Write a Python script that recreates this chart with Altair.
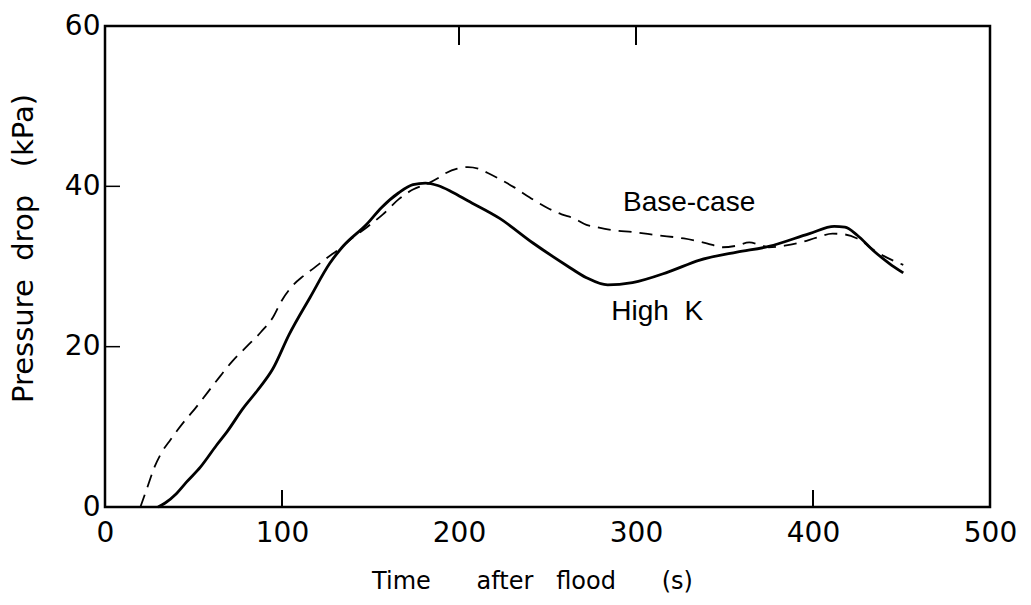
import altair as alt
import pandas as pd

# High K (solid)
highk_t = [30, 34, 40, 46, 54, 63, 69, 78, 86, 95, 104, 116, 127, 134, 148, 156, 166, 174, 181, 188, 196, 205, 223, 242, 261, 272, 284, 298, 318, 336, 357, 375, 398, 412, 418, 425, 434, 443, 451]
highk_p = [0, 0.5, 1.6, 3.1, 5.0, 7.7, 9.4, 12.3, 14.5, 17.3, 21.5, 26.2, 30.4, 32.4, 35.3, 37.3, 39.2, 40.2, 40.4, 40.1, 39.3, 38.2, 36.0, 32.9, 30.1, 28.6, 27.7, 28.0, 29.3, 30.8, 31.8, 32.5, 34.1, 35.0, 34.9, 33.9, 32.0, 30.4, 29.2]

# Base-case (dashed)
base_t = [20, 24, 28, 32, 37, 41, 46, 51, 58, 65, 72, 80, 88, 95, 100, 106, 112, 118, 125, 133, 140, 148, 157, 166, 174, 182, 188, 193, 199, 205, 211, 216, 223, 231, 240, 250, 258, 265, 272, 278, 288, 298, 312, 327, 340, 349, 357, 364, 370, 375, 384, 393, 402, 411, 418, 425, 436, 451]
base_p = [0, 2.5, 5.0, 6.8, 8.4, 9.6, 11.0, 12.3, 14.3, 16.3, 18.2, 20.0, 21.8, 23.7, 25.8, 27.6, 28.8, 29.8, 31.0, 32.3, 33.6, 34.9, 36.5, 38.4, 39.6, 40.3, 41.0, 41.7, 42.2, 42.4, 42.2, 41.7, 40.9, 39.9, 38.6, 37.3, 36.5, 36.0, 35.2, 34.9, 34.5, 34.3, 33.9, 33.5, 32.9, 32.4, 32.6, 33.0, 32.7, 32.4, 32.6, 33.0, 33.6, 34.1, 34.0, 33.5, 31.8, 30.2]

x_ticks = [0, 100, 200, 300, 400, 500]
y_ticks = [0, 20, 40, 60]
bottom_marks = [100, 400]
top_marks = [200, 300]
left_marks = [20, 40]

ann_labels = ["Base-case", "High\u00a0\u00a0K"]
ann_x = [330, 312]
ann_y = [37.9, 24.3]

W, H = 885, 481
FONT = "Liberation Sans"
AXFONT = "DejaVu Sans"
NB = "\u00a0"

df_h = pd.DataFrame({"t": highk_t, "p": highk_p})
df_b = pd.DataFrame({"t": base_t, "p": base_p})

xs = alt.Scale(domain=[0, 500], nice=False)
ys = alt.Scale(domain=[0, 60], nice=False)

xax = alt.Axis(values=x_ticks, title="Time" + NB * 6 + "after" + NB * 3 + "flood" + NB * 6 + "(s)",
               titleFontSize=24, titleFont=AXFONT, titleFontWeight="normal", titleColor="black",
               titleX=427, titleY=81, titleBaseline="alphabetic",
               labelFontSize=28, labelFont=AXFONT, labelColor="black", labelPadding=12,
               ticks=False, domain=False, grid=False, labelFlush=False)
yax = alt.Axis(values=y_ticks, title="Pressure" + NB * 2 + "drop" + NB * 3 + "(kPa)",
               titleFontSize=29, titleFont=AXFONT, titleFontWeight="normal", titleColor="black",
               titleX=-73, titleY=222, titleBaseline="alphabetic", titleAngle=270,
               labelFontSize=28, labelFont=AXFONT, labelColor="black", labelPadding=5,
               ticks=False, domain=False, grid=False, labelFlush=False)

solid = alt.Chart(df_h).mark_line(color="black", strokeWidth=2.8, interpolate="monotone").encode(
    x=alt.X("t:Q", scale=xs, axis=xax),
    y=alt.Y("p:Q", scale=ys, axis=yax),
)
dashed = alt.Chart(df_b).mark_line(color="black", strokeWidth=1.8, strokeDash=[13, 8],
                                   interpolate="monotone").encode(
    x=alt.X("t:Q", scale=xs),
    y=alt.Y("p:Q", scale=ys),
)

bt = alt.Chart(pd.DataFrame({"v": bottom_marks})).mark_rule(color="black", strokeWidth=2).encode(
    x=alt.X("v:Q", scale=xs), y=alt.value(H), y2=alt.value(H - 17))
tt = alt.Chart(pd.DataFrame({"v": top_marks})).mark_rule(color="black", strokeWidth=2).encode(
    x=alt.X("v:Q", scale=xs), y=alt.value(0), y2=alt.value(19))
lt = alt.Chart(pd.DataFrame({"v": left_marks})).mark_rule(color="black", strokeWidth=1.5).encode(
    y=alt.Y("v:Q", scale=ys), x=alt.value(0), x2=alt.value(15))

ann = alt.Chart(pd.DataFrame({"x": ann_x, "y": ann_y, "label": ann_labels})).mark_text(
    font=FONT, fontSize=28, color="black", align="center", baseline="middle").encode(
    x=alt.X("x:Q", scale=xs), y=alt.Y("y:Q", scale=ys), text="label:N")

chart = alt.layer(solid, dashed, bt, tt, lt, ann).properties(
    width=W, height=H,
    autosize=alt.AutoSizeParams(type="none"),
    padding={"left": 105, "top": 26, "right": 41, "bottom": 98},
    background="white",
).configure_view(stroke="black", strokeWidth=2.5)

chart.save("out.html", embed_options={"renderer": "svg", "actions": False})
